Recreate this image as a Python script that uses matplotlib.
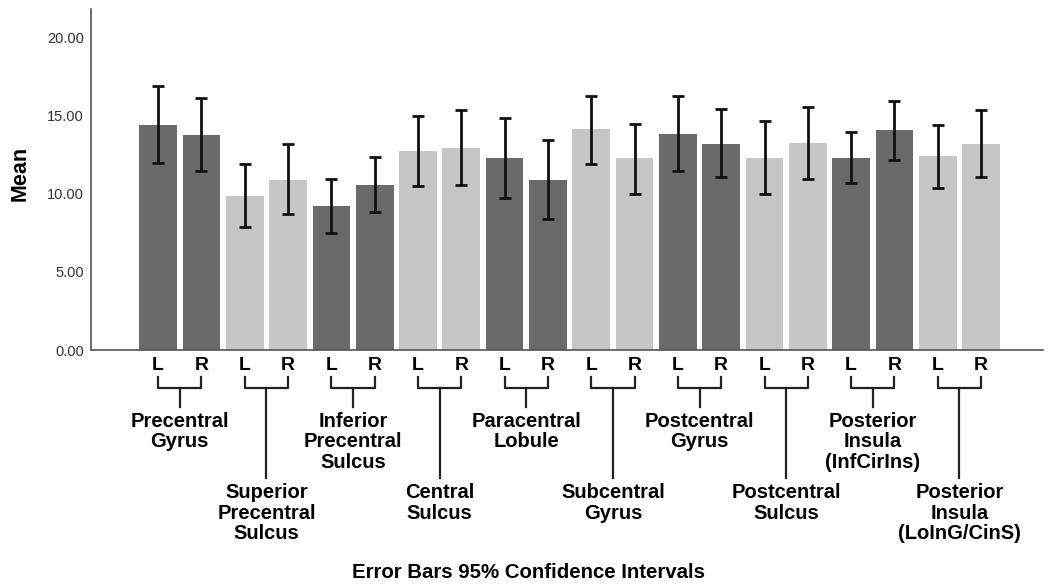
import numpy as np
import matplotlib.pyplot as plt
from matplotlib.transforms import blended_transform_factory
from matplotlib.lines import Line2D

plt.rcParams['font.family'] = ['Liberation Sans', 'DejaVu Sans']

regions = ['Precentral\nGyrus', 'Superior\nPrecentral\nSulcus',
           'Inferior\nPrecentral\nSulcus', 'Central\nSulcus',
           'Paracentral\nLobule', 'Subcentral\nGyrus',
           'Postcentral\nGyrus', 'Postcentral\nSulcus',
           'Posterior\nInsula\n(InfCirIns)', 'Posterior\nInsula\n(LoInG/CinS)']
sides = ['L', 'R']

mean_L = [14.38, 9.86, 9.18, 12.74, 12.25, 14.10, 13.82, 12.27, 12.29, 12.40]
mean_R = [13.74, 10.90, 10.56, 12.91, 10.90, 12.25, 13.20, 13.25, 14.06, 13.20]
ci_lo_L = [11.93, 7.88, 7.45, 10.48, 9.71, 11.88, 11.46, 9.97, 10.65, 10.33]
ci_hi_L = [16.89, 11.88, 10.93, 14.99, 14.86, 16.27, 16.23, 14.61, 13.95, 14.38]
ci_lo_R = [11.44, 8.71, 8.82, 10.52, 8.39, 9.97, 11.03, 10.93, 12.14, 11.07]
ci_hi_R = [16.10, 13.16, 12.37, 15.36, 13.44, 14.44, 15.40, 15.53, 15.93, 15.36]

shade = ['dark', 'light', 'dark', 'light', 'dark', 'light', 'dark', 'light', 'dark', 'light']
colors = {'dark': '#6a6a6a', 'light': '#c6c6c6'}

W, H = 1052, 587
fig = plt.figure(figsize=(W / 100, H / 100), dpi=100)
ax = fig.add_axes([91 / W, 1 - 350 / H, (1043 - 91) / W, (350 - 9) / H])

means, lo, hi, cols = [], [], [], []
for i in range(len(regions)):
    means += [mean_L[i], mean_R[i]]
    lo += [ci_lo_L[i], ci_lo_R[i]]
    hi += [ci_hi_L[i], ci_hi_R[i]]
    cols += [colors[shade[i]]] * 2
means = np.array(means)
x = np.arange(len(means))
yerr = np.vstack([means - np.array(lo), np.array(hi) - means])

ax.bar(x, means, width=0.87, color=cols, edgecolor='none', zorder=2)
ax.errorbar(x, means, yerr=yerr, fmt='none', ecolor='#111111',
            elinewidth=2, capsize=4.5, capthick=2, zorder=3)

ax.set_xlim(-1.55, len(means) - 1 + 1.43)
ax.set_ylim(0, 21.8)
ax.set_yticks([0, 5, 10, 15, 20])
ax.set_yticklabels(['%.2f' % v for v in [0, 5, 10, 15, 20]])
ax.tick_params(axis='y', length=0, pad=5, labelsize=10.5, labelcolor='#333333')
ax.set_xticks([])
for s in ['top', 'right']:
    ax.spines[s].set_visible(False)
for s in ['left', 'bottom']:
    ax.spines[s].set_color('#555555')
    ax.spines[s].set_linewidth(1.2)

fig.text(20 / W, 1 - 173 / H, 'Mean', rotation=90, ha='center', va='center',
         fontsize=15.5, fontweight='bold')

# L/R labels, brackets and region names under the axis
tr = blended_transform_factory(ax.transData, fig.transFigure)
fy = lambda py: 1 - py / H
for i, name in enumerate(regions):
    xl, xr = 2 * i, 2 * i + 1
    for xx, s in zip([xl, xr], sides):
        ax.text(xx, fy(365), s, transform=tr, ha='center', va='center',
                fontsize=14, fontweight='bold')
    bracket = Line2D([xl, xl, xr, xr], [fy(377), fy(388), fy(388), fy(377)],
                     transform=tr, color='#222222', lw=1.6, clip_on=False)
    ax.add_line(bracket)
    xm = (xl + xr) / 2
    stem_end = 407 if i % 2 == 0 else 478
    ax.add_line(Line2D([xm, xm], [fy(388), fy(stem_end)], transform=tr,
                       color='#222222', lw=1.6, clip_on=False))
    first = 421.5 if i % 2 == 0 else 493
    for k, line in enumerate(name.split('\n')):
        ax.text(xm, fy(first + 20.3 * k), line, transform=tr, ha='center',
                va='center', fontsize=14.5, fontweight='bold')

fig.text(529 / W, fy(572), 'Error Bars 95% Confidence Intervals',
         ha='center', va='center', fontsize=14.7, fontweight='bold')

fig.savefig('out.png', dpi=100)
